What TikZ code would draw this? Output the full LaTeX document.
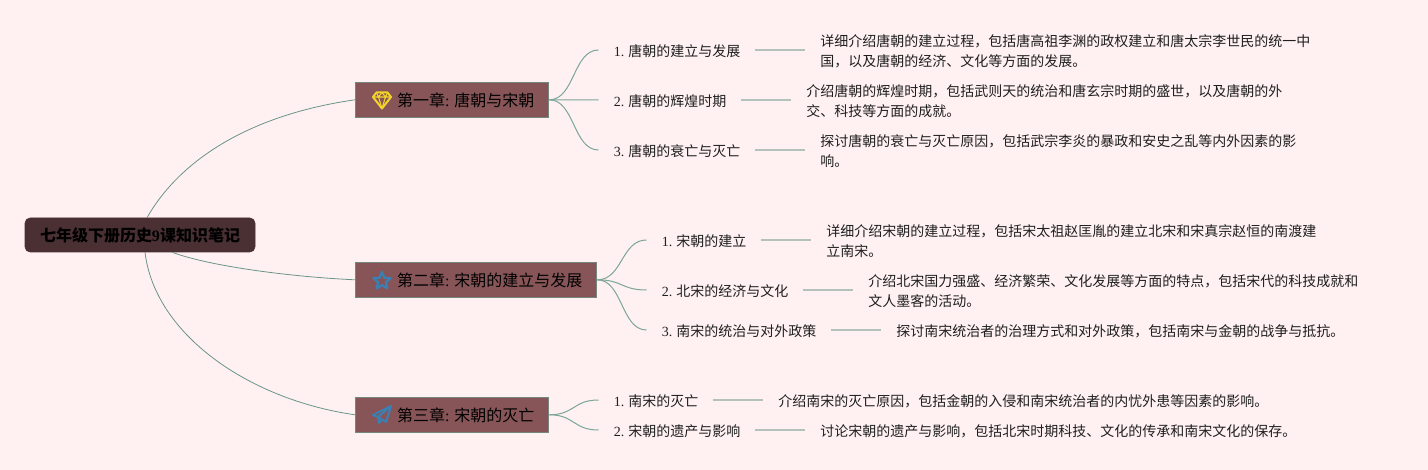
\documentclass[tikz,border=0pt]{standalone}
\usepackage{fontspec}
\setmainfont{Liberation Serif}
\newfontfamily\cjkf{Noto Sans CJK SC}
\newfontfamily\latf{Liberation Serif}
\newcommand{\lat}[1]{{\latf #1}}
\newcommand{\chaptext}[1]{\hspace{20.25pt}\raisebox{-2.3pt}[6pt][0pt]{#1}}
\definecolor{bgc}{HTML}{FFF1F2}
\definecolor{rootc}{HTML}{4A3033}
\definecolor{chapc}{HTML}{875558}
\definecolor{edgec}{HTML}{6B9488}
\definecolor{borderc}{HTML}{74877F}
\definecolor{curvec}{HTML}{7BA598}
\definecolor{linec}{HTML}{B3C2BB}
\definecolor{yel}{HTML}{F2D42B}
\definecolor{blu}{HTML}{3A80B5}
\tikzset{
  rootbox/.style={draw=rootc,fill=rootc,rounded corners=3.75pt,minimum width=172.5pt,minimum height=25.5pt,inner sep=0pt,font=\cjkf\bfseries\fontsize{12}{15}\selectfont,text=black},
  chapbox/.style={draw=borderc,fill=chapc,line width=0.75pt,anchor=west,minimum height=26pt,inner ysep=0pt,inner xsep=10.9pt,font=\cjkf\fontsize{12}{15}\selectfont,text=black},
  subbox/.style={anchor=west,inner xsep=11.25pt,inner ysep=0pt,font=\cjkf\fontsize{10.5}{15}\selectfont,text=black!88},
  detbox/.style={anchor=west,align=left,inner xsep=11.25pt,inner ysep=0pt,font=\cjkf\fontsize{10.5}{15}\selectfont,text=black!88},
  bigcurve/.style={draw=edgec,line width=0.6pt},
  smallcurve/.style={draw=curvec,line width=0.75pt},
  joinline/.style={draw=linec,line width=1.1pt},
  iconline/.style={line width=1.5pt,line join=round}
}
\begin{document}
\begin{tikzpicture}[x=0.75pt,y=-0.75pt]
\fill[bgc] (0,0) rectangle (1428,470);
\useasboundingbox (0,0) rectangle (1428,470);

\node[rootbox] (root) at (140,235) {七年级下册历史\lat{9}课知识笔记};

\node[chapbox] (c1) at (355,99.8) {\chaptext{第一章\lat{:} 唐朝与宋朝}};
\node[chapbox] (c2) at (355,279.8) {\chaptext{第二章\lat{:} 宋朝的建立与发展}};
\node[chapbox] (c3) at (355,414.8) {\chaptext{第三章\lat{:} 宋朝的灭亡}};

% chapter 1
\node[subbox] (s11) at (598.5,51) {\lat{1.} 唐朝的建立与发展};
\node[subbox] (s12) at (598.5,101) {\lat{2.} 唐朝的辉煌时期};
\node[subbox] (s13) at (598.5,151) {\lat{3.} 唐朝的衰亡与灭亡};
\node[detbox] (d11) at (805,51.5) {详细介绍唐朝的建立过程，包括唐高祖李渊的政权建立和唐太宗李世民的统一中\\国，以及唐朝的经济、文化等方面的发展。};
\node[detbox] (d12) at (791,101.5) {介绍唐朝的辉煌时期，包括武则天的统治和唐玄宗时期的盛世，以及唐朝的外\\交、科技等方面的成就。};
\node[detbox] (d13) at (805,151.5) {探讨唐朝的衰亡与灭亡原因，包括武宗李炎的暴政和安史之乱等内外因素的影\\响。};

% chapter 2
\node[subbox] (s21) at (646.5,241) {\lat{1.} 宋朝的建立};
\node[subbox] (s22) at (646.5,291) {\lat{2.} 北宋的经济与文化};
\node[subbox] (s23) at (646.5,331) {\lat{3.} 南宋的统治与对外政策};
\node[detbox] (d21) at (811,241.5) {详细介绍宋朝的建立过程，包括宋太祖赵匡胤的建立北宋和宋真宗赵恒的南渡建\\立南宋。};
\node[detbox] (d22) at (853,291.5) {介绍北宋国力强盛、经济繁荣、文化发展等方面的特点，包括宋代的科技成就和\\文人墨客的活动。};
\node[detbox] (d23) at (881,331.5) {探讨南宋统治者的治理方式和对外政策，包括南宋与金朝的战争与抵抗。};

% chapter 3
\node[subbox] (s31) at (598.5,401) {\lat{1.} 南宋的灭亡};
\node[subbox] (s32) at (598.5,431) {\lat{2.} 宋朝的遗产与影响};
\node[detbox] (d31) at (763,401.5) {介绍南宋的灭亡原因，包括金朝的入侵和南宋统治者的内忧外患等因素的影响。};
\node[detbox] (d32) at (805,431.5) {讨论宋朝的遗产与影响，包括北宋时期科技、文化的传承和南宋文化的保存。};

% root connectors
\draw[bigcurve] ([xshift=5.25pt]root.north) .. controls +(24.75pt,43.5pt) and +(-78.75pt,-11.25pt) .. (c1.west);
\draw[bigcurve] ([xshift=24pt]root.south) .. controls +(28.5pt,-10.5pt) and +(-48.75pt,2.25pt) .. (c2.west);
\draw[bigcurve] ([xshift=3.75pt]root.south) .. controls +(7.5pt,-62.25pt) and +(-78.75pt,11.25pt) .. (c3.west);

% chapter to section connectors
\foreach \a/\b in {c1/s11,c1/s13,c2/s21,c2/s22,c2/s23,c3/s31,c3/s32}{
  \draw[smallcurve] (\a.east) .. controls +(19pt,0pt) and +(-19pt,0pt) .. ([yshift=0.75pt]\b.west);
}
\draw[smallcurve] (c1.east) -- ([yshift=0.75pt]s12.west);

% section to detail connectors
\foreach \a/\b in {s11/d11,s12/d12,s13/d13,s21/d21,s22/d22,s23/d23,s31/d31,s32/d32}{
  \draw[joinline] ([xshift=-0.6pt,yshift=0.75pt]\a.east) -- ([yshift=0.75pt]\b.west |- \a.east);
}

% icons
\begin{scope}[shift={(382,100)}]
  \draw[yel,iconline] (-5.5,-7.5) -- (5.5,-7.5) -- (9,-3) -- (0,8.5) -- (-9,-3) -- cycle;
  \draw[yel,line width=0.8pt,line join=round] (-9,-3) -- (9,-3) (-3.5,-3) -- (0,8.5) -- (3.5,-3) (-5.5,-7.5) -- (-3.5,-3) -- (0,-7.5) -- (3.5,-3) -- (5.5,-7.5);
\end{scope}
\begin{scope}[shift={(382,281)}]
  \draw[blu,line width=1.7pt,line join=round] (0,-9) -- (2.4,-3.2) -- (8.6,-2.8) -- (3.9,1.3) -- (5.3,7.4) -- (0,4.1) -- (-5.3,7.4) -- (-3.9,1.3) -- (-8.6,-2.8) -- (-2.4,-3.2) -- cycle;
\end{scope}
\begin{scope}[shift={(382,415)}]
  \draw[blu,iconline] (9,-9) -- (-9,0) -- (-4,2) -- (4,7) -- cycle;
  \draw[blu,iconline] (9,-9) -- (-4,2) -- (-3,8) -- (0,4.5);
\end{scope}
\end{tikzpicture}
\end{document}
